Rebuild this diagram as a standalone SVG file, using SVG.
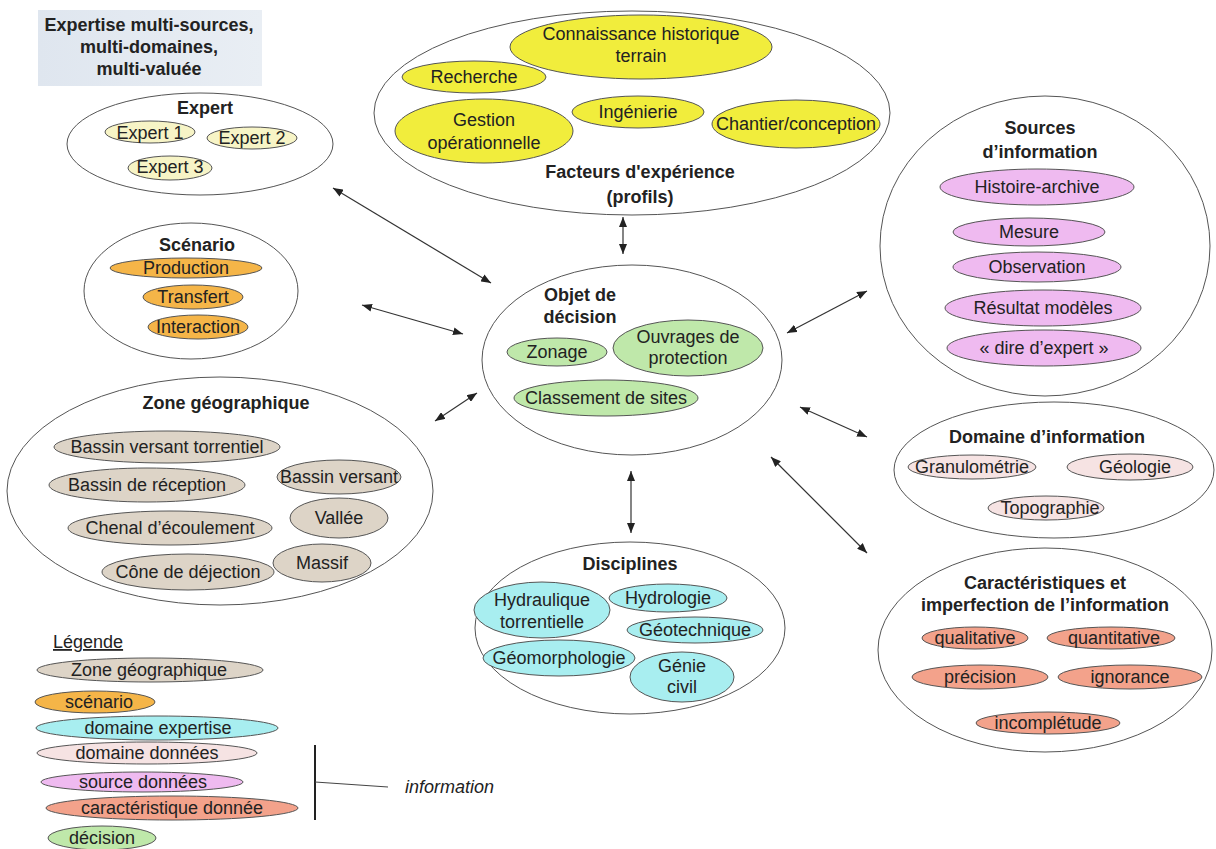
<svg xmlns="http://www.w3.org/2000/svg" width="1216" height="849" viewBox="0 0 1216 849">
<defs>
<marker id="ah" viewBox="0 0 10 8" refX="10" refY="4" markerWidth="10" markerHeight="8" markerUnits="userSpaceOnUse" orient="auto-start-reverse">
<path d="M0,0 L10,4 L0,8 z" fill="#222"/>
</marker>
<linearGradient id="tb" x1="0" y1="0" x2="1" y2="0">
<stop offset="0" stop-color="#dfe6ef"/>
<stop offset="1" stop-color="#e9eef4"/>
</linearGradient>
</defs>
<style>
text{font-family:"Liberation Sans",Arial,sans-serif;font-size:18px;fill:#222;text-anchor:middle}
.b{font-weight:bold}
.o{fill:#fff;stroke:#555;stroke-width:1}
.i{stroke:#555;stroke-width:1}
.ye{fill:#f1ed3c}
.ly{fill:#f7f4c6}
.or{fill:#f5b548}
.tn{fill:#ddd4c7}
.gr{fill:#bfe8aa}
.cy{fill:#a8eef0}
.pk{fill:#f6e3e3}
.mg{fill:#efbaf0}
.sa{fill:#f3a28b}
.c{stroke:#333;stroke-width:1.2;fill:none;marker-start:url(#ah);marker-end:url(#ah)}
</style>
<rect width="1216" height="849" fill="#fff"/>

<g id="titre">
<rect x="38" y="10" width="224" height="76" fill="url(#tb)"/>
<text class="b" x="149" y="31">Expertise multi-sources,</text>
<text class="b" x="149" y="53">multi-domaines,</text>
<text class="b" x="149" y="75">multi-valuée</text>
</g>

<g id="expert">
<ellipse class="o" cx="200" cy="144" rx="133" ry="51"/>
<text class="b" x="205" y="114">Expert</text>
<ellipse class="i ly" cx="150" cy="132" rx="45" ry="11"/>
<text x="150" y="139">Expert 1</text>
<ellipse class="i ly" cx="252" cy="138" rx="45" ry="11"/>
<text x="252" y="144">Expert 2</text>
<ellipse class="i ly" cx="170" cy="168" rx="42" ry="12"/>
<text x="170" y="173">Expert 3</text>
</g>

<g id="facteurs">
<ellipse class="o" cx="632" cy="113" rx="258" ry="102"/>
<ellipse class="i ye" cx="641" cy="47" rx="131" ry="32"/>
<text x="641" y="40">Connaissance historique</text>
<text x="641" y="62">terrain</text>
<ellipse class="i ye" cx="474" cy="77" rx="72" ry="16"/>
<text x="474" y="83">Recherche</text>
<ellipse class="i ye" cx="484" cy="131" rx="89" ry="32"/>
<text x="484" y="126">Gestion</text>
<text x="484" y="149">opérationnelle</text>
<ellipse class="i ye" cx="638" cy="112" rx="66" ry="16"/>
<text x="638" y="118">Ingénierie</text>
<ellipse class="i ye" cx="796" cy="124" rx="84" ry="24"/>
<text x="796" y="130">Chantier/conception</text>
<text class="b" x="640" y="178">Facteurs d'expérience</text>
<text class="b" x="640" y="203">(profils)</text>
</g>

<g id="sources">
<ellipse class="o" cx="1045" cy="246" rx="165" ry="150"/>
<text class="b" x="1040" y="134">Sources</text>
<text class="b" x="1040" y="158">d’information</text>
<ellipse class="i mg" cx="1037" cy="187" rx="97" ry="18"/>
<text x="1037" y="193">Histoire-archive</text>
<ellipse class="i mg" cx="1029" cy="232" rx="76" ry="14"/>
<text x="1029" y="238">Mesure</text>
<ellipse class="i mg" cx="1037" cy="267" rx="84" ry="15"/>
<text x="1037" y="273">Observation</text>
<ellipse class="i mg" cx="1043" cy="308" rx="98" ry="18"/>
<text x="1043" y="314">Résultat modèles</text>
<ellipse class="i mg" cx="1044" cy="348" rx="97" ry="18"/>
<text x="1044" y="354">« dire d’expert »</text>
</g>

<g id="scenario">
<ellipse class="o" cx="191" cy="291" rx="107" ry="68"/>
<text class="b" x="197" y="251">Scénario</text>
<ellipse class="i or" cx="186" cy="268" rx="76" ry="10"/>
<text x="186" y="274">Production</text>
<ellipse class="i or" cx="193" cy="297" rx="50" ry="12"/>
<text x="193" y="303">Transfert</text>
<ellipse class="i or" cx="198" cy="327" rx="50" ry="12"/>
<text x="198" y="333">Interaction</text>
</g>

<g id="zone">
<ellipse class="o" cx="220" cy="491" rx="213" ry="114"/>
<text class="b" x="226" y="409">Zone géographique</text>
<ellipse class="i tn" cx="167" cy="447" rx="113" ry="16"/>
<text x="167" y="453">Bassin versant torrentiel</text>
<ellipse class="i tn" cx="147" cy="485" rx="98" ry="17"/>
<text x="147" y="491">Bassin de réception</text>
<ellipse class="i tn" cx="170" cy="528" rx="102" ry="17"/>
<text x="170" y="534">Chenal d’écoulement</text>
<ellipse class="i tn" cx="188" cy="572" rx="86" ry="18"/>
<text x="188" y="578">Cône de déjection</text>
<ellipse class="i tn" cx="339" cy="477" rx="62" ry="17"/>
<text x="339" y="483">Bassin versant</text>
<ellipse class="i tn" cx="339" cy="518" rx="49" ry="20"/>
<text x="339" y="524">Vallée</text>
<ellipse class="i tn" cx="322" cy="563" rx="49" ry="19"/>
<text x="322" y="569">Massif</text>
</g>

<g id="objet">
<ellipse class="o" cx="632" cy="360" rx="150" ry="95"/>
<text class="b" x="580" y="301">Objet de</text>
<text class="b" x="580" y="323">décision</text>
<ellipse class="i gr" cx="557" cy="352" rx="50" ry="14"/>
<text x="557" y="358">Zonage</text>
<ellipse class="i gr" cx="688" cy="348" rx="75" ry="28"/>
<text x="688" y="343">Ouvrages de</text>
<text x="688" y="364">protection</text>
<ellipse class="i gr" cx="606" cy="398" rx="92" ry="18"/>
<text x="606" y="404">Classement de sites</text>
</g>

<g id="disciplines">
<ellipse class="o" cx="630" cy="628" rx="155" ry="86"/>
<text class="b" x="630" y="570">Disciplines</text>
<ellipse class="i cy" cx="542" cy="610" rx="68" ry="28"/>
<text x="542" y="606">Hydraulique</text>
<text x="542" y="628">torrentielle</text>
<ellipse class="i cy" cx="668" cy="598" rx="59" ry="14"/>
<text x="668" y="604">Hydrologie</text>
<ellipse class="i cy" cx="695" cy="630" rx="68" ry="13"/>
<text x="695" y="636">Géotechnique</text>
<ellipse class="i cy" cx="559" cy="658" rx="76" ry="18"/>
<text x="559" y="664">Géomorphologie</text>
<ellipse class="i cy" cx="682" cy="677" rx="52" ry="25"/>
<text x="682" y="672">Génie</text>
<text x="682" y="693">civil</text>
</g>

<g id="domaine">
<ellipse class="o" cx="1054" cy="470" rx="160" ry="68"/>
<text class="b" x="1047" y="443">Domaine d’information</text>
<ellipse class="i pk" cx="972" cy="467" rx="64" ry="12"/>
<text x="972" y="473">Granulométrie</text>
<ellipse class="i pk" cx="1130" cy="467" rx="63" ry="13"/>
<text x="1135" y="473">Géologie</text>
<ellipse class="i pk" cx="1046" cy="508" rx="58" ry="12"/>
<text x="1050" y="514">Topographie</text>
</g>

<g id="caracteristiques">
<ellipse class="o" cx="1045" cy="650" rx="167" ry="102"/>
<text class="b" x="1045" y="589">Caractéristiques et</text>
<text class="b" x="1045" y="611">imperfection de l’information</text>
<ellipse class="i sa" cx="975" cy="638" rx="53" ry="11"/>
<text x="975" y="644">qualitative</text>
<ellipse class="i sa" cx="1111" cy="638" rx="64" ry="11"/>
<text x="1114" y="644">quantitative</text>
<ellipse class="i sa" cx="980" cy="677" rx="68" ry="12"/>
<text x="980" y="683">précision</text>
<ellipse class="i sa" cx="1130" cy="677" rx="72" ry="12"/>
<text x="1130" y="683">ignorance</text>
<ellipse class="i sa" cx="1048" cy="723" rx="72" ry="11"/>
<text x="1048" y="729">incomplétude</text>
</g>

<g id="legende">
<text x="53" y="648" style="text-anchor:start;text-decoration:underline">Légende</text>
<ellipse class="i tn" cx="150" cy="670" rx="113" ry="12"/>
<text x="149" y="676">Zone géographique</text>
<ellipse class="i or" cx="95" cy="702" rx="60" ry="11"/>
<text x="99" y="708">scénario</text>
<ellipse class="i cy" cx="157" cy="728" rx="121" ry="12"/>
<text x="158" y="734">domaine expertise</text>
<ellipse class="i pk" cx="147" cy="753" rx="110" ry="11"/>
<text x="147" y="759">domaine données</text>
<ellipse class="i mg" cx="142" cy="782" rx="101" ry="10"/>
<text x="143" y="788">source données</text>
<ellipse class="i sa" cx="172" cy="808" rx="126" ry="12"/>
<text x="172" y="814">caractéristique donnée</text>
<ellipse class="i gr" cx="102" cy="838" rx="54" ry="12"/>
<text x="102" y="844">décision</text>
<line x1="315" y1="745" x2="315" y2="820" stroke="#222" stroke-width="2"/>
<line x1="315" y1="782" x2="388" y2="787" stroke="#444" stroke-width="1"/>
<text x="405" y="793" style="text-anchor:start;font-style:italic">information</text>
</g>

<g id="connecteurs">
<line class="c" x1="333" y1="188" x2="491" y2="283"/>
<line class="c" x1="362" y1="305" x2="463" y2="334"/>
<line class="c" x1="435" y1="421" x2="477" y2="393"/>
<line class="c" x1="623" y1="217" x2="623" y2="254"/>
<line class="c" x1="631" y1="471" x2="631" y2="533"/>
<line class="c" x1="787" y1="333" x2="867" y2="291"/>
<line class="c" x1="800" y1="407" x2="867" y2="437"/>
<line class="c" x1="771" y1="457" x2="867" y2="553"/>
</g>
</svg>
